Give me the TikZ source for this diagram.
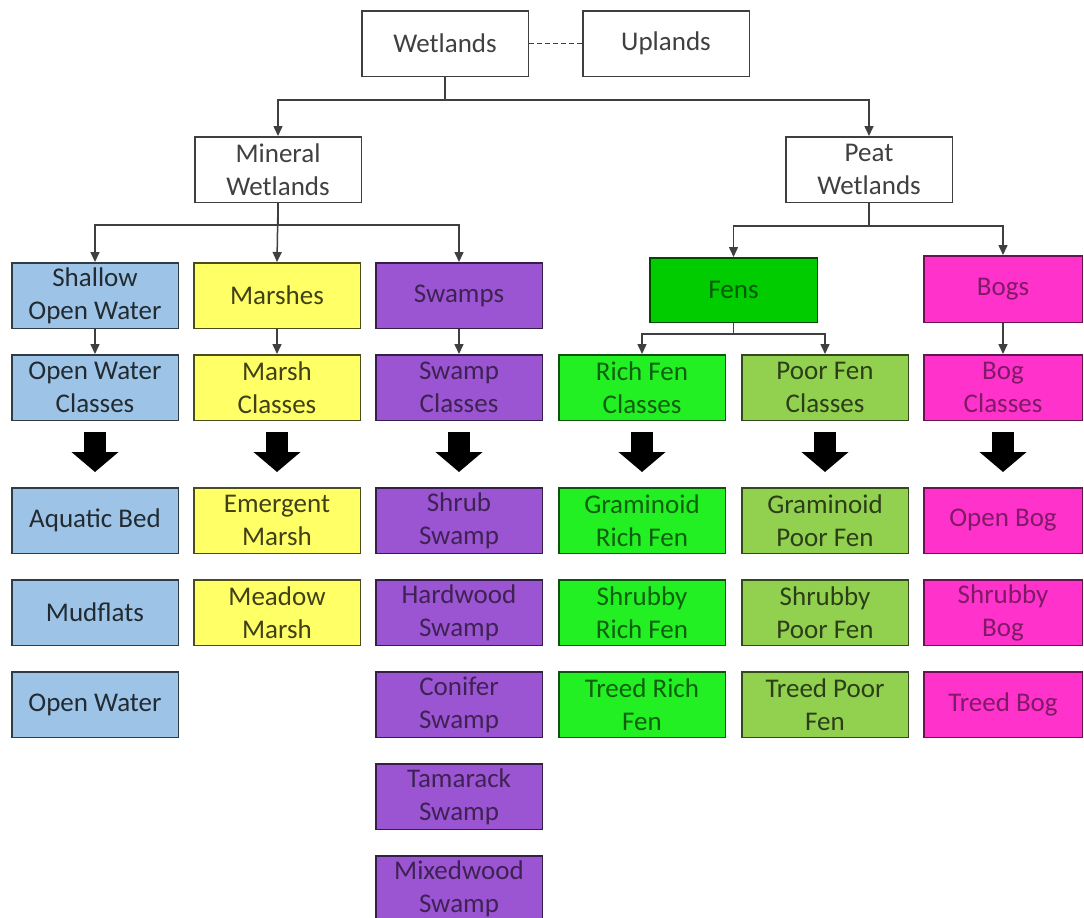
\documentclass[tikz,border=0pt]{standalone}
\usepackage{fontspec}
\setmainfont{Carlito}
\usepackage{tikz}
\usetikzlibrary{positioning,calc,arrows.meta}

\definecolor{linegray}{HTML}{3F3F3F}
\definecolor{owfill}{HTML}{9DC3E6}
\definecolor{mafill}{HTML}{FFFF66}
\definecolor{swfill}{HTML}{9B55D2}
\definecolor{fnfill}{HTML}{00CC00}
\definecolor{rffill}{HTML}{22F022}
\definecolor{pffill}{HTML}{92D050}
\definecolor{bgfill}{HTML}{FF33CC}

\begin{document}
\begin{tikzpicture}[x=1pt, y=-1pt, node distance=25pt and 14pt,
  box/.style = {draw=linegray, line width=1.5pt, minimum width=166.5pt, minimum height=65.5pt, inner sep=0pt, align=center, font=\fontsize{27}{33}\selectfont},
  wbox/.style = {box, fill=white, text=black!75},
  owbox/.style = {box, fill=owfill, draw=owfill!30!black, text=owfill!22!black},
  mabox/.style = {box, fill=mafill, draw=mafill!30!black, text=mafill!25!black},
  swbox/.style = {box, fill=swfill, draw=swfill!35!black, text=swfill!40!black},
  fnbox/.style = {box, fill=fnfill, draw=fnfill!35!black, text=fnfill!45!black},
  rfbox/.style = {box, fill=rffill, draw=rffill!35!black, text=rffill!40!black},
  pfbox/.style = {box, fill=pffill, draw=pffill!35!black, text=pffill!30!black},
  bgbox/.style = {box, fill=bgfill, draw=bgfill!40!black, text=bgfill!50!black},
  link/.style = {draw=linegray, line width=1.5pt, -{Triangle[width=9pt,length=10pt]}},
  bigarr/.style = {draw=black, line width=22pt, -{Triangle[width=46pt,length=20pt]}}]

\useasboundingbox (0,0) rectangle (1084,918);
\fill[white] (0,0) rectangle (1084,918);
\clip (0,0) rectangle (1084,918);

% top of the tree
\node[wbox] (wet) at (445,43.5) {Wetlands};
\node[wbox] (upl) at (666,43.5) {Uplands};
\node[wbox] (min) at (278,169.5) {Mineral\\Wetlands};
\node[wbox] (peat) at (869,169.5) {Peat\\Wetlands};

% mineral wetlands
\node[owbox] (sow) at (95,295.5) {Shallow\\Open Water};
\node[mabox] (mar) at (277,295.5) {Marshes};
\node[swbox] (swa) at (459,295.5) {Swamps};
\node[owbox] (owc) [below=of sow] {Open Water\\Classes};
\node[mabox] (mac) [below=of mar] {Marsh\\Classes};
\node[swbox] (swc) [below=of swa] {Swamp\\Classes};

% peat wetlands
\node[fnbox, minimum width=167.5pt, minimum height=64.5pt] (fen) at (733.5,290) {Fens};
\node[bgbox, minimum width=158.5pt, minimum height=66.5pt] (bog) at (1003,289) {Bogs};
\node[rfbox] (rfc) at (642,387.5) {Rich Fen\\Classes};
\node[pfbox] (pfc) at (825,387.5) {Poor Fen\\Classes};
\node[bgbox, minimum width=158.5pt] (bgc) at (1003,387.5) {Bog\\Classes};

% classes
\node[owbox] (aq) [below=66pt of owc] {Aquatic Bed};
\node[owbox] (mud) [below=of aq] {Mudflats};
\node[owbox] (opw) [below=of mud] {Open Water};

\node[mabox] (emm) [below=66pt of mac] {Emergent\\Marsh};
\node[mabox] (mem) [below=of emm] {Meadow\\Marsh};

\node[swbox] (shs) [below=66pt of swc] {Shrub\\Swamp};
\node[swbox] (has) [below=of shs] {Hardwood\\Swamp};
\node[swbox] (cos) [below=of has] {Conifer\\Swamp};
\node[swbox] (tas) [below=of cos] {Tamarack\\Swamp};
\node[swbox] (mis) [below=of tas] {Mixedwood\\Swamp};

\node[rfbox] (grf) [below=66pt of rfc] {Graminoid\\Rich Fen};
\node[rfbox] (srf) [below=of grf] {Shrubby\\Rich Fen};
\node[rfbox] (trf) [below=of srf] {Treed Rich\\Fen};

\node[pfbox] (gpf) [below=66pt of pfc] {Graminoid\\Poor Fen};
\node[pfbox] (spf) [below=of gpf] {Shrubby\\Poor Fen};
\node[pfbox] (tpf) [below=of spf] {Treed Poor\\Fen};

\node[bgbox, minimum width=158.5pt] (opb) [below=66pt of bgc] {Open Bog};
\node[bgbox, minimum width=158.5pt] (shb) [below=of opb] {Shrubby\\Bog};
\node[bgbox, minimum width=158.5pt] (trb) [below=of shb] {Treed Bog};

% connectors
\draw[linegray, line width=1.5pt, dash pattern=on 5pt off 3pt] (wet) -- (upl);
\draw[link] (wet.south) -- ++(0,23) -| (min.north);
\draw[link] (wet.south) -- ++(0,23) -| (peat.north);
\draw[link] (min.south) -- ++(0,22) -| (sow.north);
\draw[link] (min.south) -- (mar.north);
\draw[link] (min.south) -- ++(0,22) -| (swa.north);
\draw[link] (peat.south) -- ++(0,23) -| (fen.north);
\draw[link] (peat.south) -- ++(0,23) -| (bog.north);
\draw[link] (fen.south) -- ++(0,11) -| (rfc.north);
\draw[link] (fen.south) -- ++(0,11) -| (pfc.north);
\draw[link] (sow) -- (owc);
\draw[link] (mar) -- (mac);
\draw[link] (swa) -- (swc);
\draw[link] (bog) -- (bgc);

\foreach \a/\b in {owc/aq, mac/emm, swc/shs, rfc/grf, pfc/gpf, bgc/opb}
  \draw[bigarr] ($(\a.south)+(0,11)$) -- ($(\b.north)+(0,-15)$);

\end{tikzpicture}
\end{document}
